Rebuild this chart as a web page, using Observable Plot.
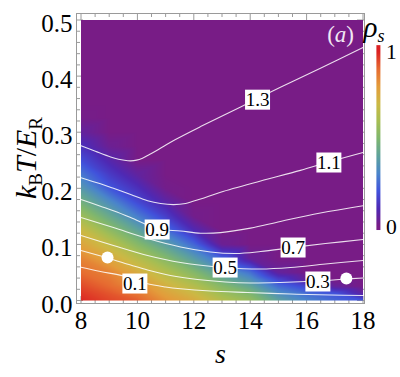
<!DOCTYPE html>
<html><head><meta charset="utf-8">
<script src="https://cdn.jsdelivr.net/npm/d3@7"></script>
<script src="https://cdn.jsdelivr.net/npm/@observablehq/plot@0.6"></script>
<style>
body{margin:0;background:#fff;}
#wrap{position:relative;width:400px;height:377px;overflow:hidden;}
#cbar{position:absolute;left:376px;top:40px;}
</style></head><body><div id="wrap"><div id="main"></div><div id="cbar"></div></div>
<script>
// ---- grid of rho_s ----
const sValues = [8, 9, 10, 11, 12, 13, 14, 15, 16, 17, 18];
const TValues = [0, 0.0125, 0.025, 0.0375, 0.05, 0.075, 0.1, 0.125, 0.15, 0.175, 0.2, 0.225, 0.25, 0.275, 0.3, 0.325, 0.35, 0.4, 0.5];
const rhoRows = [
  [0.99, 0.95, 0.92, 0.82, 0.75, 0.64, 0.56, 0.40, 0.30, 0.24, 0.20],
  [0.97, 0.93, 0.88, 0.78, 0.70, 0.58, 0.50, 0.33, 0.25, 0.20, 0.06],
  [0.946, 0.902, 0.843, 0.737, 0.641, 0.523, 0.419, 0.248, 0.168, 0.045, 0],
  [0.922, 0.878, 0.797, 0.686, 0.58, 0.45, 0.34, 0.16, 0.045, 0, 0],
  [0.898, 0.854, 0.751, 0.635, 0.52, 0.38, 0.259, 0.05, 0, 0, 0],
  [0.85, 0.768, 0.646, 0.519, 0.379, 0.225, 0.041, 0, 0, 0, 0],
  [0.775, 0.671, 0.524, 0.391, 0.239, 0.029, 0, 0, 0, 0, 0],
  [0.70, 0.549, 0.409, 0.256, 0.1, 0, 0, 0, 0, 0, 0],
  [0.584, 0.436, 0.288, 0.153, 0.012, 0, 0, 0, 0, 0, 0],
  [0.472, 0.327, 0.18, 0.075, 0, 0, 0, 0, 0, 0, 0],
  [0.37, 0.209, 0.118, 0.011, 0, 0, 0, 0, 0, 0, 0],
  [0.275, 0.144, 0.055, 0, 0, 0, 0, 0, 0, 0, 0],
  [0.186, 0.084, 0, 0, 0, 0, 0, 0, 0, 0, 0],
  [0.118, 0.029, 0, 0, 0, 0, 0, 0, 0, 0, 0],
  [0.05, 0, 0, 0, 0, 0, 0, 0, 0, 0, 0],
  [0.008, 0, 0, 0, 0, 0, 0, 0, 0, 0, 0],
  [0, 0, 0, 0, 0, 0, 0, 0, 0, 0, 0],
  [0, 0, 0, 0, 0, 0, 0, 0, 0, 0, 0],
  [0, 0, 0, 0, 0, 0, 0, 0, 0, 0, 0]
];
const rainbowStops = ["#781c86", "#4f29b4", "#4153dc", "#4a85cb", "#5ea29d", "#7eb66f", "#a6be53", "#ccb945", "#e39d3b", "#e66c31", "#db2122"];

// ---- contour lines (s, T) ----
const c13s = [8, 8.51, 9.05, 9.33, 9.54, 9.76, 9.97, 10.18, 10.46, 10.89, 11.35, 12.24, 13.66, 15.07, 16.49, 18];
const c13T = [0.276, 0.266, 0.2558, 0.2518, 0.2499, 0.2490, 0.2502, 0.2538, 0.2611, 0.2736, 0.287, 0.310, 0.345, 0.380, 0.414, 0.451];
const c11s = [8, 8.69, 9.15, 9.76, 10.36, 10.82, 11.28, 11.71, 12.24, 12.95, 14.37, 15.78, 16.85, 18];
const c11T = [0.219, 0.208, 0.200, 0.189, 0.178, 0.173, 0.171, 0.173, 0.181, 0.193, 0.213, 0.232, 0.248, 0.264];
const c09s = [8, 8.69, 9.15, 9.76, 10.71, 11.53, 12.24, 12.95, 14.01, 15.07, 16.49, 18];
const c09T = [0.180, 0.168, 0.160, 0.148, 0.128, 0.124, 0.120, 0.121, 0.129, 0.141, 0.156, 0.169];
const c07s = [8, 9.15, 10.36, 11.53, 12.59, 13.48, 14.37, 15.5, 16.67, 18];
const c07T = [0.148, 0.130, 0.1105, 0.0954, 0.0865, 0.0838, 0.0873, 0.0945, 0.1016, 0.1087];
const c05s = [8, 9.15, 10.36, 11.53, 13.09, 14.37, 15.43, 16.67, 18];
const c05T = [0.1159, 0.098, 0.0802, 0.0677, 0.0588, 0.0561, 0.0588, 0.0651, 0.0713];
const c03s = [8, 8.94, 9.76, 10.36, 11.17, 12.13, 13.12, 14.0, 15.07, 16.39, 17.41, 18];
const c03T = [0.0891, 0.0758, 0.0633, 0.0544, 0.0446, 0.0374, 0.033, 0.0312, 0.0321, 0.0348, 0.0383, 0.0401];
const c01s = [8, 8.69, 9.51, 10.32, 11.0, 11.53, 12.59, 13.9, 15.43, 16.85, 18];
const c01T = [0.0594, 0.0517, 0.0437, 0.0303, 0.0241, 0.0209, 0.0169, 0.0143, 0.0116, 0.0098, 0.0089];

// ---- contour labels ----
const labelText = ["1.3", "1.1", "0.9", "0.7", "0.5", "0.3", "0.1"];
const labelS = [14.26, 16.79, 10.70, 15.52, 13.11, 16.40, 9.91];
const labelT = [0.358, 0.246, 0.1266, 0.0945, 0.0588, 0.0339, 0.0303];

// ---- white markers ----
const markerS = [8.94, 17.41];
const markerT = [0.0766, 0.0392];

// ---- ticks ----
const xMajor = [8, 10, 12, 14, 16, 18];
const xMinor = [8.5, 9, 9.5, 10.5, 11, 11.5, 12.5, 13, 13.5, 14.5, 15, 15.5, 16.5, 17, 17.5];
const yMajor = [0, 0.1, 0.2, 0.3, 0.4, 0.5];
const yMinor = [0.02, 0.04, 0.06, 0.08, 0.12, 0.14, 0.16, 0.18, 0.22, 0.24, 0.26, 0.28, 0.32, 0.34, 0.36, 0.38, 0.42, 0.44, 0.46, 0.48];
const cbarTicks = [0, 1];

// ---- build tables ----
const grid = [];
TValues.forEach((T, i) => sValues.forEach((s, j) => grid.push({s, T, rho: rhoRows[i][j]})));
const contourSets = [[1.3, c13s, c13T], [1.1, c11s, c11T], [0.9, c09s, c09T], [0.7, c07s, c07T], [0.5, c05s, c05T], [0.3, c03s, c03T], [0.1, c01s, c01T]];
const contourPts = [];
contourSets.forEach(([level, ss, ts]) => ss.forEach((s, k) => contourPts.push({level, s, T: ts[k]})));
const labels = labelText.map((text, i) => ({text, s: labelS[i], T: labelT[i]}));
const markers = markerS.map((s, i) => ({s, T: markerT[i]}));

const colorScale = {type: "linear", domain: [0, 1], interpolate: d3.piecewise(d3.interpolateRgb, rainbowStops), clamp: true};
const boxSymbol = {draw(ctx) { ctx.rect(-12.5, -10, 25, 20); }};
const serif = "'Liberation Serif'";
const FW = 288, FH = 290; // frame size in px
const tickGray = "#9a9a9a";

const main = Plot.plot({
  width: 400, height: 377,
  marginLeft: 76, marginRight: 36, marginTop: 13, marginBottom: 74,
  x: {domain: [7.84, 18.053]},
  y: {domain: [-0.0053, 0.5116]},
  color: colorScale,
  style: {background: "white", color: "black"},
  marks: [
    Plot.ruleX(xMajor, {insetTop: FH - 7, stroke: tickGray}),
    Plot.ruleX(xMajor, {insetBottom: FH - 7, stroke: tickGray}),
    Plot.ruleX(xMinor, {insetTop: FH - 4, stroke: tickGray}),
    Plot.ruleX(xMinor, {insetBottom: FH - 4, stroke: tickGray}),
    Plot.ruleY(yMajor, {insetRight: FW - 7, stroke: tickGray}),
    Plot.ruleY(yMajor, {insetLeft: FW - 7, stroke: tickGray}),
    Plot.ruleY(yMinor, {insetRight: FW - 4, stroke: tickGray}),
    Plot.ruleY(yMinor, {insetLeft: FW - 4, stroke: tickGray}),
    Plot.frame({stroke: tickGray}),
    Plot.raster(grid, {x: "s", y: "T", fill: "rho", interpolate: "barycentric",
      x1: sValues[0], x2: sValues[sValues.length - 1], y1: TValues[0], y2: TValues[TValues.length - 1]}),
    Plot.line(contourPts, {x: "s", y: "T", z: "level", stroke: "white", strokeOpacity: 0.85, strokeWidth: 1.1, curve: "catmull-rom"}),
    Plot.dot(labels, {x: "s", y: "T", symbol: boxSymbol, fill: "white", r: 10}),
    Plot.text(labels, {x: "s", y: "T", text: "text", fontSize: 19, fill: "black"}),
    Plot.dot(markers, {x: "s", y: "T", r: 6, fill: "white"}),
    Plot.axisX(xMajor, {tickSize: 0, tickPadding: 8, fontSize: 25, label: null}),
    Plot.axisY(yMajor, {tickSize: 0, tickPadding: 4, fontSize: 25, label: null, dy: 4, tickFormat: d3.format(".1f")}),
    Plot.text(["s"], {frameAnchor: "bottom", dy: 59, fontSize: 28, fontStyle: "italic", fill: "black"})
  ]
});
document.getElementById("main").appendChild(main);

const svg = d3.select(main);
const yl = svg.append("text")
  .attr("transform", "translate(36,158) rotate(-90)")
  .attr("text-anchor", "middle").attr("font-size", 30).attr("fill", "black");
yl.append("tspan").attr("font-style", "italic").text("k");
yl.append("tspan").attr("font-size", 19).attr("dy", 6).text("B");
yl.append("tspan").attr("font-style", "italic").attr("dy", -6).text("T");
yl.append("tspan").text("/");
yl.append("tspan").attr("font-style", "italic").text("E");
yl.append("tspan").attr("font-size", 19).attr("dy", 6).text("R");

const rl = svg.append("text").attr("x", 374).attr("y", 37)
  .attr("font-size", 29).attr("fill", "black");
rl.append("tspan").attr("font-style", "italic").text("ρ");
rl.append("tspan").attr("font-style", "italic").attr("font-size", 18).attr("dy", 5).text("s");

const al = svg.append("text").attr("x", 354).attr("y", 42).attr("text-anchor", "end")
  .attr("font-size", 23).attr("fill", "#f2e8f4");
al.append("tspan").text("(");
al.append("tspan").attr("font-style", "italic").text("a");
al.append("tspan").text(")");

const cbar = Plot.plot({
  width: 30, height: 250,
  marginLeft: 0, marginRight: 25, marginTop: 0, marginBottom: 0,
  x: {domain: [0, 1], axis: null},
  y: {domain: [0, 1], range: [232, 14], axis: null},
  color: colorScale,
  style: {background: "transparent", overflow: "visible", color: "black"},
  marks: [
    Plot.raster({fill: (x, y) => y, x1: 0, x2: 1, y1: -0.023, y2: 1.037}),
    Plot.text(cbarTicks, {x: 1, y: d => d, dx: 7, textAnchor: "start", fontSize: 27, fill: "black", dy: 1})
  ]
});
document.getElementById("cbar").appendChild(cbar);

// serif face on every text element and group
for (const node of [main, cbar]) {
  node.setAttribute("font-family", serif);
  node.style.fontFamily = serif;
  d3.select(node).selectAll("g, text, tspan").attr("font-family", serif).style("font-family", serif);
}
</script>
</body></html>
